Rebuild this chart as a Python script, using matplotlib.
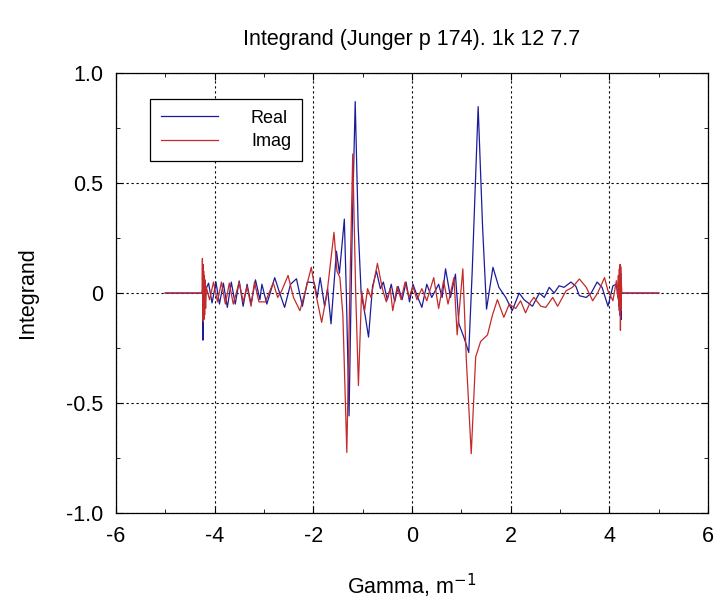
import matplotlib
matplotlib.use('Agg')
import matplotlib.pyplot as plt
from matplotlib.ticker import MultipleLocator, FuncFormatter

plt.rcParams['font.family'] = ['Liberation Sans', 'DejaVu Sans']
plt.rcParams['axes.unicode_minus'] = False

# values
real_x = [-5.0, -4.25, -4.24, -4.235, -4.228, -4.22, -4.212, -4.204, -4.196, -4.185, -4.17,
          -4.12, -4.05, -3.97, -3.90, -3.82, -3.74, -3.66, -3.58, -3.50, -3.42, -3.34, -3.26,
          -3.17, -3.08, -3.04, -2.94, -2.78, -2.68, -2.58, -2.46, -2.34, -2.22, -2.12, -1.98,
          -1.92, -1.86, -1.77, -1.71, -1.64, -1.53, -1.47, -1.37, -1.33, -1.275, -1.21, -1.15,
          -1.09, -1.03, -0.95, -0.88, -0.80, -0.72, -0.64, -0.58, -0.50, -0.42, -0.35, -0.28,
          -0.20, -0.12, -0.05, 0.02, 0.10, 0.20, 0.30, 0.40, 0.47, 0.54, 0.61, 0.68, 0.78,
          0.88, 0.95, 1.05, 1.15, 1.22, 1.34, 1.43, 1.51, 1.64, 1.76, 1.90, 2.03, 2.17, 2.27,
          2.44, 2.58, 2.68, 2.78, 2.88, 2.98, 3.08, 3.22, 3.32, 3.39, 3.53, 3.63, 3.75, 3.85,
          3.97, 4.07, 4.14, 4.18, 4.19, 4.20, 4.21, 4.22, 4.228, 4.235, 4.24, 4.25, 5.0]
real_y = [0, 0, 0.02, -0.214, 0.09, -0.11, 0.06, -0.07, 0.04, -0.04, 0.02,
          0.045, -0.045, 0.05, -0.05, 0.045, -0.065, 0.05, -0.05, 0.055, -0.06, 0.04, -0.05,
          0.06, -0.03, 0.04, -0.05, 0.07, 0.0, -0.065, 0.04, 0.065, -0.06, 0.05, 0.047,
          -0.02, 0.07, -0.06, 0.02, -0.14, 0.19, 0.09, 0.336, 0.0, -0.558, 0.3, 0.87,
          0.3, 0.0, -0.1, -0.2, 0.03, 0.10, 0.02, 0.05, -0.03, 0.04, -0.04, 0.03,
          -0.03, 0.05, -0.04, 0.04, -0.01, -0.065, 0.04, -0.02, 0.01, 0.04, -0.02, 0.11, -0.02,
          0.086, -0.14, -0.2, -0.27, 0.1, 0.847, 0.3, -0.073, 0.117, 0.026, -0.02, -0.08, 0.0, -0.03,
          -0.06, 0.0, -0.02, 0.026, 0.0, 0.033, 0.026, 0.05, 0.03, -0.012, -0.02, 0.0, 0.05, 0.026,
          -0.06, 0.033, 0.04, -0.03, 0.05, -0.08, 0.07, -0.1, 0.09, -0.12, 0.0, 0, 0]

imag_x = [-5.0, -4.25, -4.245, -4.238, -4.232, -4.226, -4.22, -4.214, -4.208, -4.20, -4.19,
          -4.18, -4.17, -4.10, -4.02, -3.94, -3.86, -3.78, -3.70, -3.62, -3.50, -3.42, -3.34,
          -3.26, -3.19, -3.10, -2.97, -2.81, -2.72, -2.64, -2.51, -2.40, -2.27, -2.17, -2.04,
          -1.95, -1.83, -1.72, -1.58, -1.52, -1.46, -1.40, -1.32, -1.26, -1.20, -1.14, -1.085,
          -1.02, -0.96, -0.90, -0.83, -0.70, -0.60, -0.52, -0.44, -0.39, -0.30, -0.22, -0.14,
          -0.06, 0.02, 0.10, 0.20, 0.30, 0.44, 0.54, 0.64, 0.73, 0.85, 0.915, 1.03, 1.10, 1.20,
          1.29, 1.39, 1.53, 1.63, 1.73, 1.86, 1.97, 2.10, 2.20, 2.30, 2.40, 2.47, 2.61, 2.71,
          2.85, 2.95, 3.12, 3.25, 3.39, 3.53, 3.66, 3.76, 3.90, 3.97, 4.07, 4.14, 4.17, 4.18,
          4.19, 4.20, 4.21, 4.215, 4.222, 4.228, 4.235, 4.24, 4.25, 5.0]
imag_y = [0, 0, 0.157, -0.12, 0.13, -0.13, 0.1, -0.12, 0.08, -0.1, 0.06,
          -0.07, 0.03, -0.03, 0.05, -0.04, 0.05, -0.05, 0.045, -0.05, 0.05, -0.04, 0.03,
          -0.06, 0.05, -0.04, -0.04, 0.047, -0.02, 0.01, 0.08, -0.02, -0.08, 0.0, 0.117,
          0.0, -0.133, 0.0, 0.276, 0.1, 0.07, -0.1, -0.724, 0.0, 0.632, 0.0, -0.42,
          0.01, -0.08, 0.02, -0.02, 0.135, 0.02, -0.04, 0.02, -0.08, 0.03, -0.03, 0.05,
          -0.02, 0.03, -0.03, 0.02, -0.035, 0.07, -0.07, 0.056, -0.05, 0.07, -0.19, 0.11, -0.3, -0.73,
          -0.29, -0.22, -0.19, -0.1, -0.03, -0.11, -0.05, -0.07, -0.035, -0.09, -0.04, -0.02, -0.06, -0.065,
          -0.02, -0.06, 0.01, 0.026, 0.064, 0.026, -0.035, 0.0, 0.07, 0.01, -0.035, 0.056, -0.02, 0.08,
          -0.06, 0.11, -0.1, 0.13, -0.17, 0.12, -0.08, 0.05, 0, 0]

fig = plt.figure(figsize=(7.19, 6.03), dpi=100)
ax = fig.add_axes([0.161, 0.149, 0.824, 0.730])

ax.plot(real_x, real_y, color='#1c1c9a', lw=0.9, label='Real')
ax.plot(imag_x, imag_y, color='#c42a2a', lw=0.9, label='Imag')

ax.set_xlim(-6, 6)
ax.set_ylim(-1, 1)
ax.xaxis.set_major_locator(MultipleLocator(2))
ax.xaxis.set_minor_locator(MultipleLocator(1))
ax.yaxis.set_major_locator(MultipleLocator(0.5))
ax.yaxis.set_minor_locator(MultipleLocator(0.25))

def yfmt(v, pos):
    if abs(v) < 1e-9:
        return '0'
    return '%.1f' % v
ax.yaxis.set_major_formatter(FuncFormatter(yfmt))

ax.tick_params(which='both', direction='in', top=True, right=True, labelsize=15.5)
ax.tick_params(which='major', length=5)
ax.tick_params(which='minor', length=3)
ax.tick_params(axis='x', which='major', pad=9)
ax.tick_params(axis='y', which='major', pad=9)
ax.grid(True, which='major', color='black', linestyle=(0, (2, 2.5)), linewidth=0.8)
for s in ax.spines.values():
    s.set_linewidth(0.9)

ax.set_title('Integrand (Junger p 174). 1k 12 7.7', fontsize=15.5, pad=20)
ax.set_xlabel('Gamma, m$^{-1}$', fontsize=15.5, labelpad=18)
ax.set_ylabel('Integrand', fontsize=15.5, labelpad=20)

leg = ax.legend(loc='upper left', bbox_to_anchor=(0.0574, 0.941), borderaxespad=0,
                fontsize=13, handlelength=3.2, fancybox=False, framealpha=1,
                edgecolor='black', borderpad=0.6, labelspacing=0.35, handletextpad=1.8)
leg.get_frame().set_linewidth(0.9)

fig.savefig('out.png', dpi=100)
